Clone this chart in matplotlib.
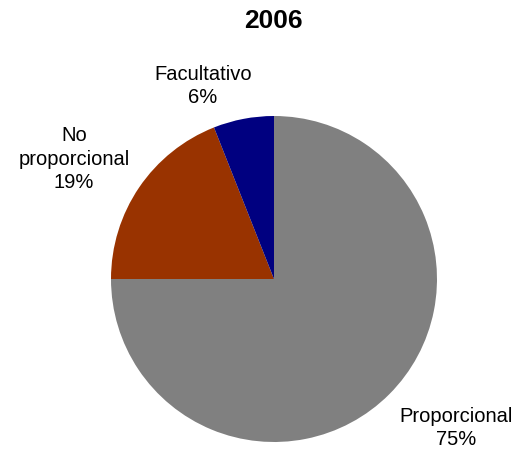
import matplotlib.pyplot as plt

# Datos del gráfico
categorias = ['Proporcional', 'No\nproporcional', 'Facultativo']
valores = [75, 19, 6]
colores = ['#808080', '#993300', '#000080']

plt.rcParams['font.family'] = ['Liberation Sans', 'DejaVu Sans']

fig = plt.figure(figsize=(5.19, 4.51), dpi=100)
# Caja del círculo en píxeles: centro (274, 279), radio 163
W, H = 519, 451
ax = fig.add_axes([111 / W, (H - 442) / H, 326 / W, 326 / H])

wedges, textos = ax.pie(valores, colors=colores, startangle=90, counterclock=False,
                        radius=1, wedgeprops=dict(linewidth=0))
ax.set_xlim(-1, 1)
ax.set_ylim(-1, 1)

# Etiquetas con nombre y porcentaje
pos_etiquetas = [(1.117, -0.914), (-1.227, 0.736), (-0.436, 1.184)]
for cat, val, (x, y) in zip(categorias, valores, pos_etiquetas):
    ax.text(x, y, f'{cat}\n{val}%', ha='center', va='center', fontsize=14.5,
            linespacing=1.33, clip_on=False)

fig.text(273 / W, 1 - 21 / H, '2006', ha='center', va='center',
         fontsize=19, fontweight='bold')

fig.savefig('out.png', dpi=100)
